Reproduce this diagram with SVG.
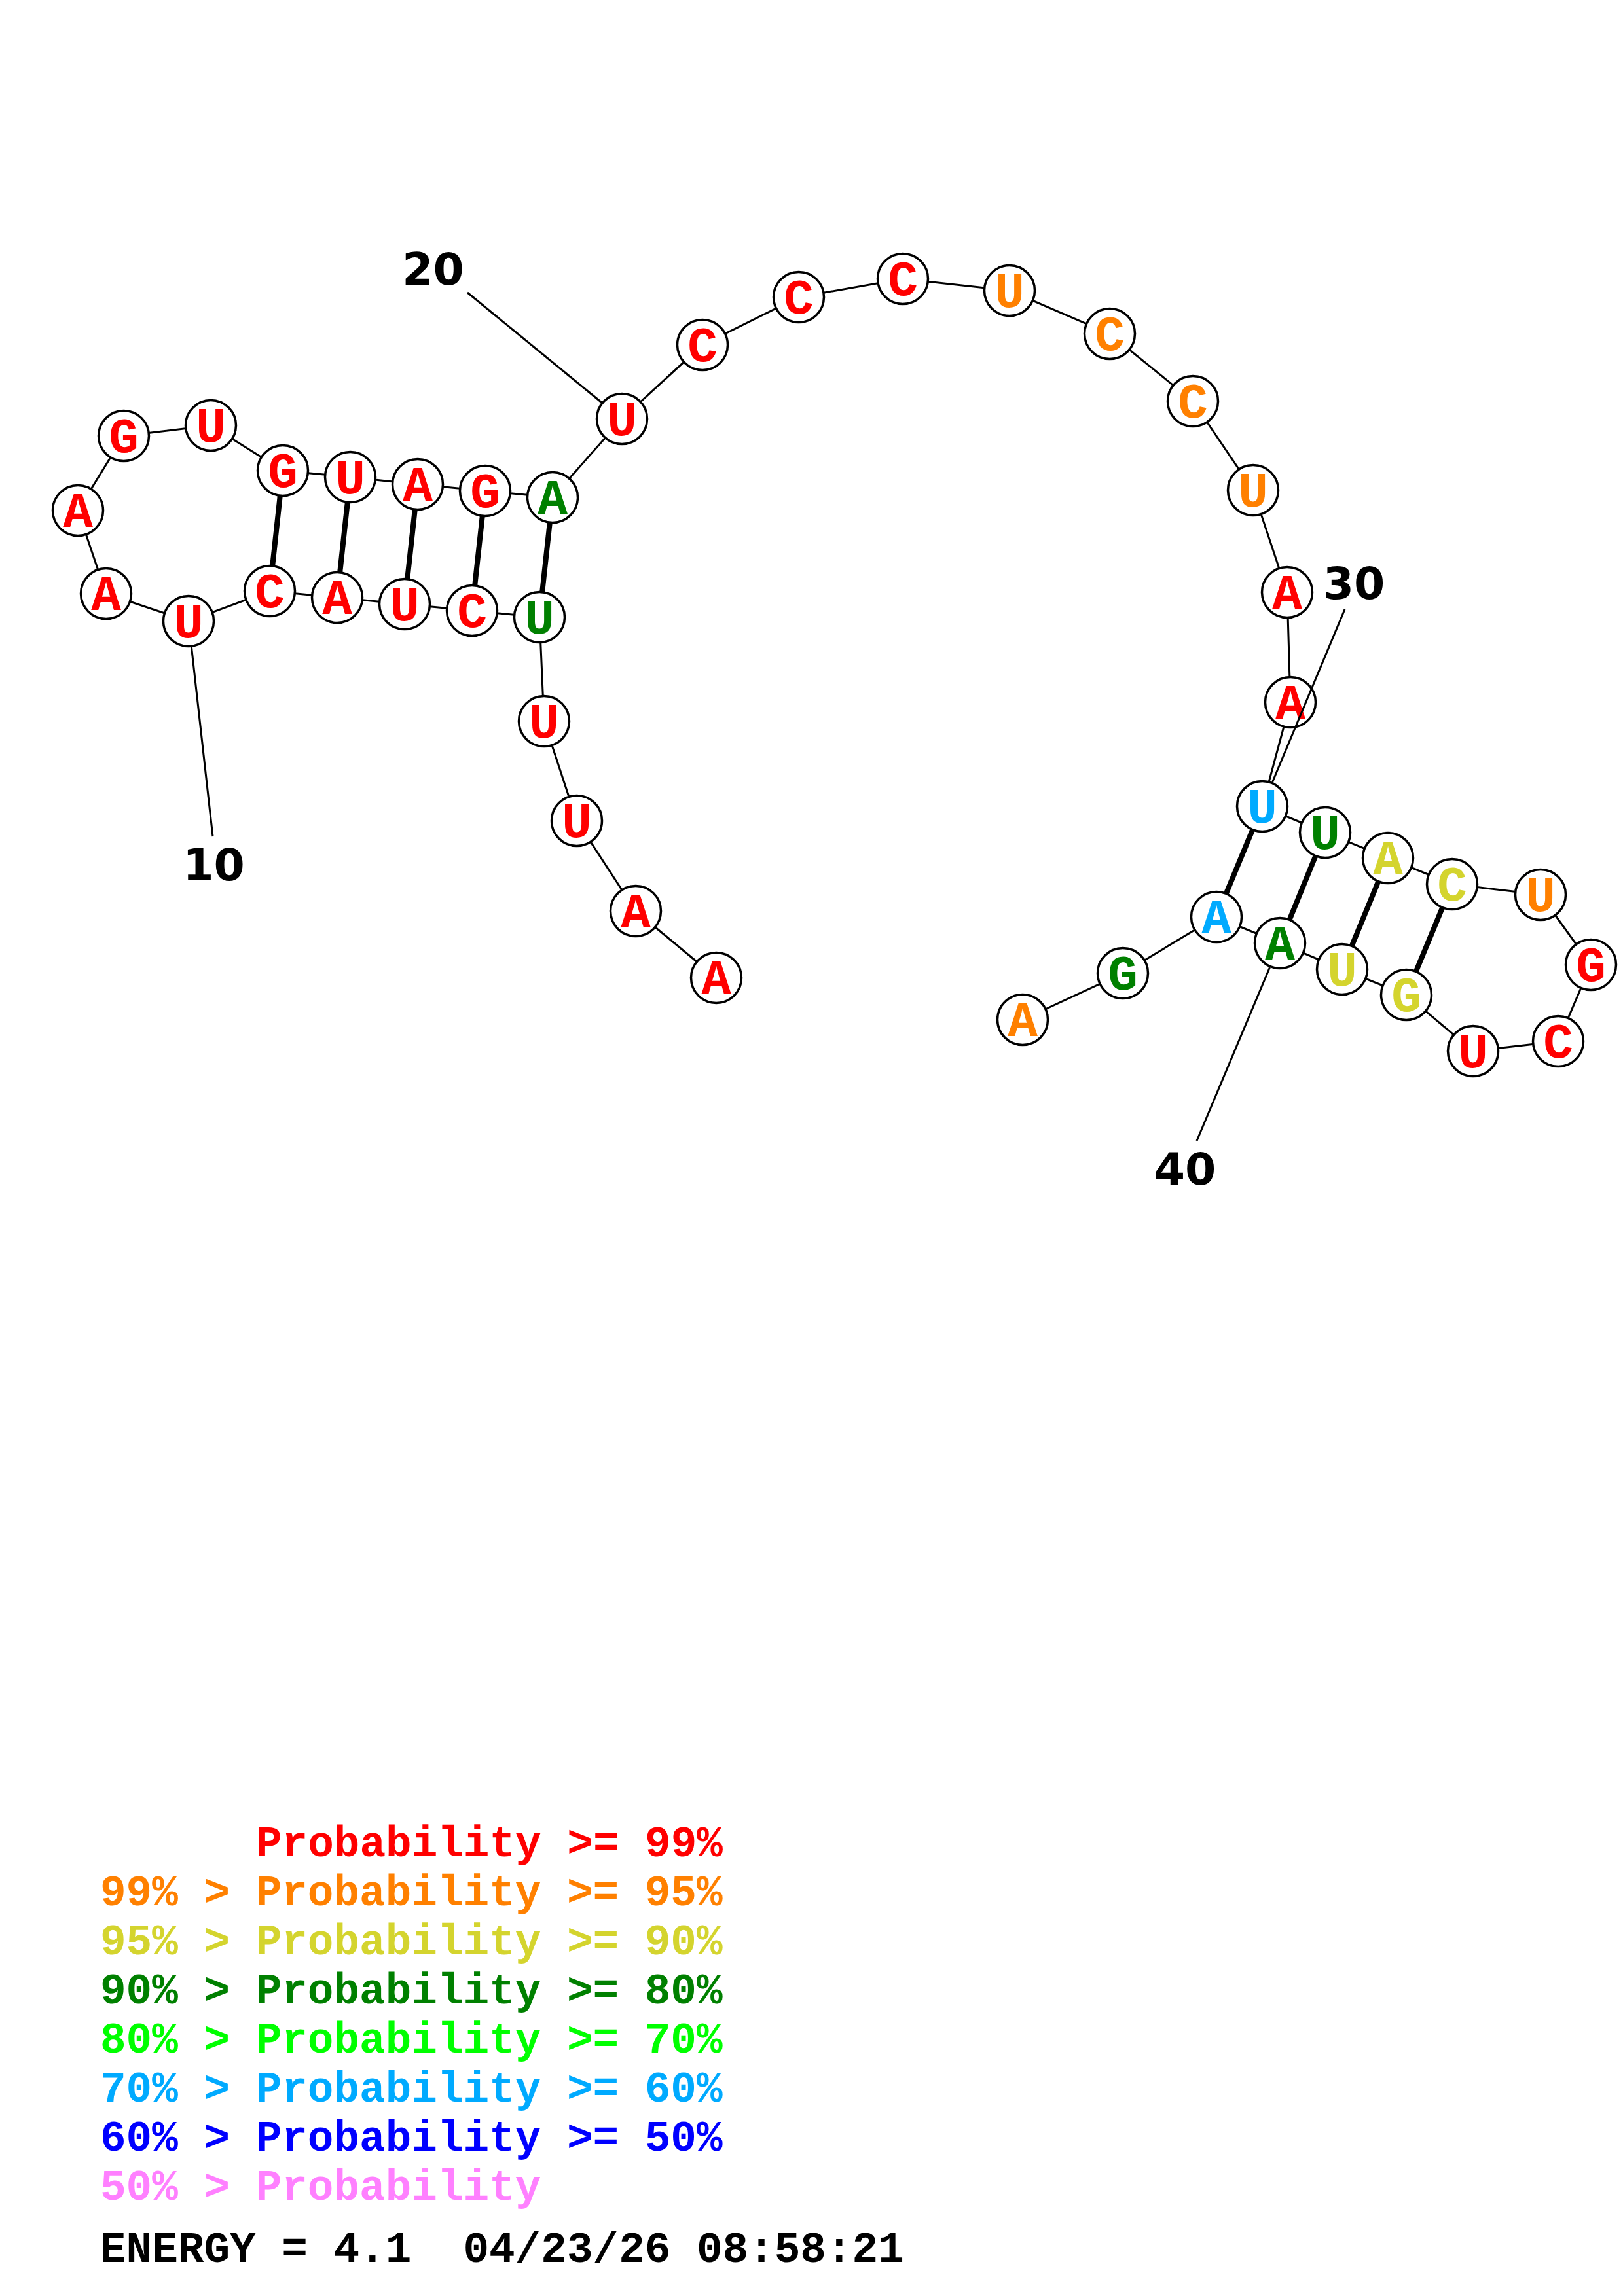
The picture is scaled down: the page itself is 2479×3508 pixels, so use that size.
<svg xmlns="http://www.w3.org/2000/svg" width="2479" height="3508" viewBox="0 0 2479 3508">
<style>
.bb{stroke:#000;stroke-width:3;fill:none}
.pr{stroke:#000;stroke-width:8;fill:none}
.ll{stroke:#000;stroke-width:3;fill:none}
.nd circle{fill:#fff;stroke:#000;stroke-width:3.5}
.nd text{font-family:"Liberation Mono","Courier New",monospace;font-weight:bold;font-size:76px;text-anchor:middle}
.num{font-family:"DejaVu Sans",sans-serif;font-weight:bold;font-size:68px;text-anchor:middle;fill:#000}
.lg{font-family:"Liberation Mono","Courier New",monospace;font-weight:bold;font-size:66px;white-space:pre}
.r{fill:#ff0000}.o{fill:#ff8000}.y{fill:#d4d42e}.g{fill:#008000}.lgr{fill:#00ff00}.lb{fill:#00aaff}.b{fill:#0000ff}.p{fill:#ff80ff}.k{fill:#000}
</style>
<rect width="2479" height="3508" fill="#fff"/>
<g id="connectors">
<polyline class="bb" points="1094,1494 971,1392 881,1254 831,1102 824,943 721,933 618,923 515,913 412,903 288,949 162,907 119,780 189,666 322,650 432,719 535,729 638,740 741,750 844,760 950,640 1073,527 1220,454 1379,426 1542,444 1695,510 1822,613 1914,749 1966,905 1971,1073 1928,1232 2024,1272 2120,1311 2218,1351 2353,1367 2430,1474 2380,1591 2250,1606 2148,1520 2050,1481 1955,1441 1858,1401 1715,1487 1562,1558"/>
<line class="pr" x1="824" y1="943" x2="844" y2="760"/>
<line class="pr" x1="721" y1="933" x2="741" y2="750"/>
<line class="pr" x1="618" y1="923" x2="638" y2="740"/>
<line class="pr" x1="515" y1="913" x2="535" y2="729"/>
<line class="pr" x1="412" y1="903" x2="432" y2="719"/>
<line class="pr" x1="1928" y1="1232" x2="1858" y2="1401"/>
<line class="pr" x1="2024" y1="1272" x2="1955" y2="1441"/>
<line class="pr" x1="2120" y1="1311" x2="2050" y2="1481"/>
<line class="pr" x1="2218" y1="1351" x2="2148" y2="1520"/>
</g>
<g id="n1" class="nd"><circle cx="1094" cy="1494" r="38.5"/><text x="1094" y="1519" class="r">A</text></g>
<g id="n2" class="nd"><circle cx="971" cy="1392" r="38.5"/><text x="971" y="1417" class="r">A</text></g>
<g id="n3" class="nd"><circle cx="881" cy="1254" r="38.5"/><text x="881" y="1279" class="r">U</text></g>
<g id="n4" class="nd"><circle cx="831" cy="1102" r="38.5"/><text x="831" y="1127" class="r">U</text></g>
<g id="n5" class="nd"><circle cx="824" cy="943" r="38.5"/><text x="824" y="968" class="g">U</text></g>
<g id="n6" class="nd"><circle cx="721" cy="933" r="38.5"/><text x="721" y="958" class="r">C</text></g>
<g id="n7" class="nd"><circle cx="618" cy="923" r="38.5"/><text x="618" y="948" class="r">U</text></g>
<g id="n8" class="nd"><circle cx="515" cy="913" r="38.5"/><text x="515" y="938" class="r">A</text></g>
<g id="n9" class="nd"><circle cx="412" cy="903" r="38.5"/><text x="412" y="928" class="r">C</text></g>
<g id="n10" class="nd"><circle cx="288" cy="949" r="38.5"/><text x="288" y="974" class="r">U</text></g>
<g id="n11" class="nd"><circle cx="162" cy="907" r="38.5"/><text x="162" y="932" class="r">A</text></g>
<g id="n12" class="nd"><circle cx="119" cy="780" r="38.5"/><text x="119" y="805" class="r">A</text></g>
<g id="n13" class="nd"><circle cx="189" cy="666" r="38.5"/><text x="189" y="691" class="r">G</text></g>
<g id="n14" class="nd"><circle cx="322" cy="650" r="38.5"/><text x="322" y="675" class="r">U</text></g>
<g id="n15" class="nd"><circle cx="432" cy="719" r="38.5"/><text x="432" y="744" class="r">G</text></g>
<g id="n16" class="nd"><circle cx="535" cy="729" r="38.5"/><text x="535" y="754" class="r">U</text></g>
<g id="n17" class="nd"><circle cx="638" cy="740" r="38.5"/><text x="638" y="765" class="r">A</text></g>
<g id="n18" class="nd"><circle cx="741" cy="750" r="38.5"/><text x="741" y="775" class="r">G</text></g>
<g id="n19" class="nd"><circle cx="844" cy="760" r="38.5"/><text x="844" y="785" class="g">A</text></g>
<g id="n20" class="nd"><circle cx="950" cy="640" r="38.5"/><text x="950" y="665" class="r">U</text></g>
<g id="n21" class="nd"><circle cx="1073" cy="527" r="38.5"/><text x="1073" y="552" class="r">C</text></g>
<g id="n22" class="nd"><circle cx="1220" cy="454" r="38.5"/><text x="1220" y="479" class="r">C</text></g>
<g id="n23" class="nd"><circle cx="1379" cy="426" r="38.5"/><text x="1379" y="451" class="r">C</text></g>
<g id="n24" class="nd"><circle cx="1542" cy="444" r="38.5"/><text x="1542" y="469" class="o">U</text></g>
<g id="n25" class="nd"><circle cx="1695" cy="510" r="38.5"/><text x="1695" y="535" class="o">C</text></g>
<g id="n26" class="nd"><circle cx="1822" cy="613" r="38.5"/><text x="1822" y="638" class="o">C</text></g>
<g id="n27" class="nd"><circle cx="1914" cy="749" r="38.5"/><text x="1914" y="774" class="o">U</text></g>
<g id="n28" class="nd"><circle cx="1966" cy="905" r="38.5"/><text x="1966" y="930" class="r">A</text></g>
<g id="n29" class="nd"><circle cx="1971" cy="1073" r="38.5"/><text x="1971" y="1098" class="r">A</text></g>
<g id="n30" class="nd"><circle cx="1928" cy="1232" r="38.5"/><text x="1928" y="1257" class="lb">U</text></g>
<g id="n31" class="nd"><circle cx="2024" cy="1272" r="38.5"/><text x="2024" y="1297" class="g">U</text></g>
<g id="n32" class="nd"><circle cx="2120" cy="1311" r="38.5"/><text x="2120" y="1336" class="y">A</text></g>
<g id="n33" class="nd"><circle cx="2218" cy="1351" r="38.5"/><text x="2218" y="1376" class="y">C</text></g>
<g id="n34" class="nd"><circle cx="2353" cy="1367" r="38.5"/><text x="2353" y="1392" class="o">U</text></g>
<g id="n35" class="nd"><circle cx="2430" cy="1474" r="38.5"/><text x="2430" y="1499" class="r">G</text></g>
<g id="n36" class="nd"><circle cx="2380" cy="1591" r="38.5"/><text x="2380" y="1616" class="r">C</text></g>
<g id="n37" class="nd"><circle cx="2250" cy="1606" r="38.5"/><text x="2250" y="1631" class="r">U</text></g>
<g id="n38" class="nd"><circle cx="2148" cy="1520" r="38.5"/><text x="2148" y="1545" class="y">G</text></g>
<g id="n39" class="nd"><circle cx="2050" cy="1481" r="38.5"/><text x="2050" y="1506" class="y">U</text></g>
<g id="n40" class="nd"><circle cx="1955" cy="1441" r="38.5"/><text x="1955" y="1466" class="g">A</text></g>
<g id="n41" class="nd"><circle cx="1858" cy="1401" r="38.5"/><text x="1858" y="1426" class="lb">A</text></g>
<g id="n42" class="nd"><circle cx="1715" cy="1487" r="38.5"/><text x="1715" y="1512" class="g">G</text></g>
<g id="n43" class="nd"><circle cx="1562" cy="1558" r="38.5"/><text x="1562" y="1583" class="o">A</text></g>
<g id="labels">
<line class="ll" x1="325" y1="1278" x2="292.5" y2="989"/>
<line class="ll" x1="714" y1="447" x2="919" y2="615"/>
<line class="ll" x1="2054" y1="931" x2="1943.5" y2="1195"/>
<line class="ll" x1="1828" y1="1743" x2="1939.5" y2="1478"/>
<text class="num" x="326.5" y="1345">10</text>
<text class="num" x="661.5" y="435">20</text>
<text class="num" x="2068" y="915">30</text>
<text class="num" x="1810" y="1810">40</text>
</g>
<g id="legend" class="lg">
<text x="391" y="2836" class="r">Probability &gt;= 99%</text>
<text x="153" y="2911" class="o">99% &gt; Probability &gt;= 95%</text>
<text x="153" y="2986" class="y">95% &gt; Probability &gt;= 90%</text>
<text x="153" y="3061" class="g">90% &gt; Probability &gt;= 80%</text>
<text x="153" y="3136" class="lgr">80% &gt; Probability &gt;= 70%</text>
<text x="153" y="3211" class="lb">70% &gt; Probability &gt;= 60%</text>
<text x="153" y="3286" class="b">60% &gt; Probability &gt;= 50%</text>
<text x="153" y="3361" class="p">50% &gt; Probability</text>
<text x="153" y="3456" class="k" xml:space="preserve">ENERGY = 4.1  04/23/26 08:58:21</text>
</g>
</svg>
